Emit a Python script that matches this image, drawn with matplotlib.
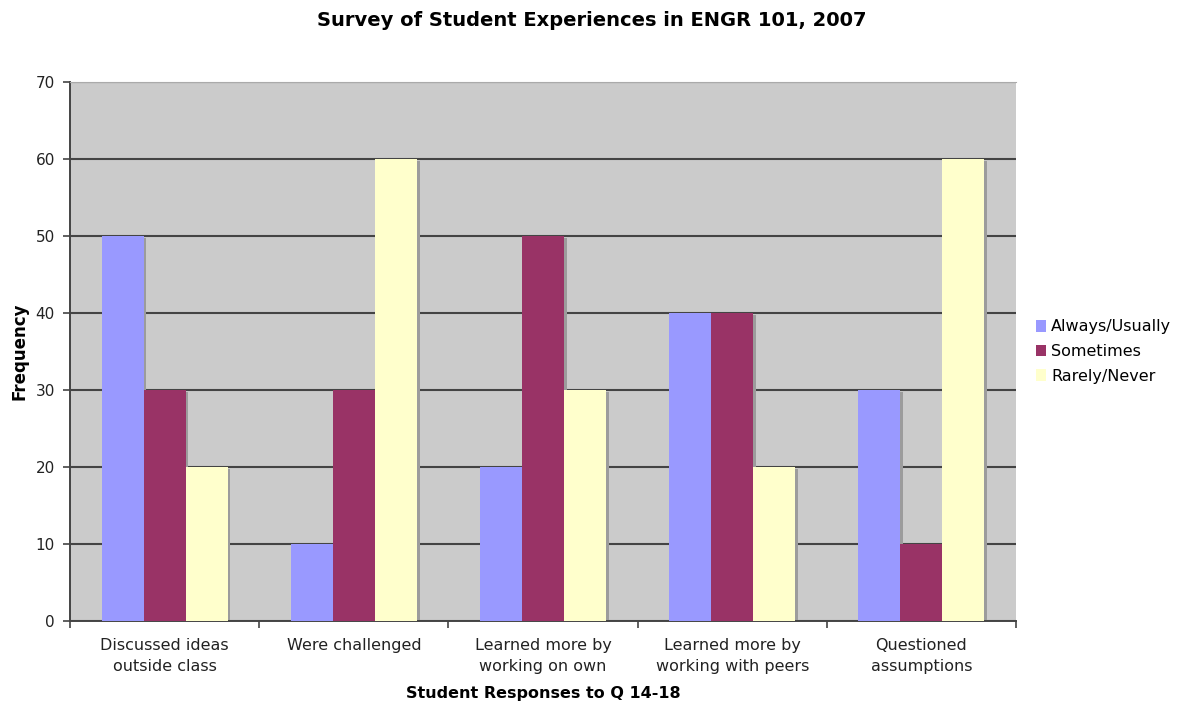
import numpy as np
import matplotlib.pyplot as plt
from matplotlib.ticker import MultipleLocator, FixedLocator

categories = ["Discussed ideas\noutside class", "Were challenged",
              "Learned more by\nworking on own", "Learned more by\nworking with peers",
              "Questioned\nassumptions"]
series_names = ["Always/Usually", "Sometimes", "Rarely/Never"]
always = [50, 10, 20, 40, 30]
sometimes = [30, 30, 50, 40, 10]
rarely = [20, 60, 30, 20, 60]
colors = ["#9999FF", "#993366", "#FFFFCC"]

fig = plt.figure(figsize=(11.81, 7.06), dpi=100, facecolor="white")
ax = fig.add_axes([0.0593, 0.1204, 0.801, 0.7635])
ax.set_facecolor("#CBCBCB")

x = np.arange(len(categories))
w = 0.222
for i, (vals, c, name) in enumerate(zip([always, sometimes, rarely], colors, series_names)):
    pos = x + (i - 1) * w
    # soft drop shadow, Excel style
    ax.bar(pos + 0.015, np.array(vals) - 0.3, width=w, color="#9C9C9C", zorder=2)
    ax.bar(pos, vals, width=w, color=c, zorder=3, label=name)

ax.set_xlim(-0.5, len(categories) - 0.5)
ax.set_ylim(0, 70)
ax.yaxis.set_major_locator(MultipleLocator(10))
ax.yaxis.grid(True, color="#444444", linewidth=1.5, zorder=1)
ax.set_axisbelow(True)

ax.set_xticks(x)
ax.set_xticklabels(categories, fontsize=11.5, color="#222222", linespacing=1.5)
ax.tick_params(axis="x", length=0, pad=12)
ax.xaxis.set_minor_locator(FixedLocator(np.arange(-0.5, len(categories), 1.0)))
ax.tick_params(axis="x", which="minor", length=5, width=1.2, color="#444444")
ax.tick_params(axis="y", length=5, width=1.2, color="#444444", labelsize=11,
               labelcolor="#222222", pad=6)

for s in ["left", "bottom"]:
    ax.spines[s].set_color("#444444")
    ax.spines[s].set_linewidth(1.4)
ax.spines["top"].set_color("#AAAAAA")
ax.spines["right"].set_visible(False)

ax.set_ylabel("Frequency", fontsize=12, fontweight="bold")
ax.yaxis.set_label_coords(-0.044, 0.5)
ax.set_xlabel("Student Responses to Q 14-18", fontsize=11.5, fontweight="bold", labelpad=9)
fig.suptitle("Survey of Student Experiences in ENGR 101, 2007",
             fontsize=14, fontweight="bold", x=0.501, y=0.985)

ax.legend(loc="center left", bbox_to_anchor=(1.006, 0.5), frameon=False,
          fontsize=11.5, handlelength=0.6, handleheight=0.75, handletextpad=0.35,
          labelspacing=0.6)

fig.savefig("out.png", dpi=100, facecolor="white")
